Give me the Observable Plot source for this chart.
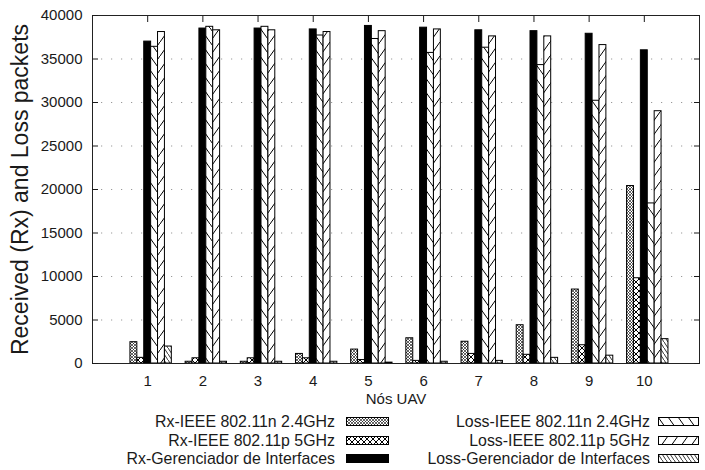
<!DOCTYPE html>
<html>
<head>
<meta charset="utf-8">
<script src="https://cdn.jsdelivr.net/npm/d3@7"></script>
<script src="https://cdn.jsdelivr.net/npm/@observablehq/plot@0.6"></script>
<style>
  body { margin: 0; background: #fff; font-family: "Liberation Sans", Arial, sans-serif; color: #1a1a1a; }
  #wrap { width: 705px; height: 470px; position: relative; overflow: hidden; }
  #chart svg { overflow: visible; }
  #legend { position: absolute; left: 0; top: 405px; width: 705px; height: 65px; font-size: 15.9px; }
  .item { position: absolute; height: 18px; line-height: 18px; white-space: nowrap; }
  .item span { position: absolute; right: 0; top: 0; }
</style>
</head>
<body>
<div id="wrap"><div id="chart"></div><div id="legend"></div></div>
<script>
// UAV nodes on the x axis
const nodes = [1, 2, 3, 4, 5, 6, 7, 8, 9, 10];

// Series names (legend order)
const seriesNames = [
  "Rx-IEEE 802.11n 2.4GHz",
  "Rx-IEEE 802.11p 5GHz",
  "Rx-Gerenciador de Interfaces",
  "Loss-IEEE 802.11n 2.4GHz",
  "Loss-IEEE 802.11p 5GHz",
  "Loss-Gerenciador de Interfaces"
];

// Packet counts per node
const rxN24   = [2450, 200, 200, 1100, 1600, 2900, 2500, 4400, 8500, 20400];
const rxP5    = [650, 600, 600, 600, 400, 300, 1100, 1000, 2100, 9800];
const rxGer   = [37000, 38500, 38500, 38400, 38800, 38600, 38300, 38200, 37900, 36000];
const lossN24 = [36400, 38700, 38700, 37700, 37300, 35700, 36300, 34300, 30200, 18400];
const lossP5  = [38100, 38300, 38300, 38100, 38200, 38400, 37600, 37600, 36600, 29000];
const lossGer = [1950, 200, 200, 200, 100, 200, 300, 650, 900, 2800];

const yTicks = [0, 5000, 10000, 15000, 20000, 25000, 30000, 35000, 40000];

const seriesValues = [rxN24, rxP5, rxGer, lossN24, lossP5, lossGer];
const patternIds = ["pRxN", "pRxP", "pRxG", "pLossN", "pLossP", "pLossG"];
const fills = patternIds.map(id => `url(#${id})`);

// Clustered histogram: 6 boxes per node, box width 1/8 of a node step
const boxW = 1 / 8;
const rows = [];
seriesNames.forEach((name, k) => {
  seriesValues[k].forEach((v, i) => {
    const x1 = nodes[i] + (k - 2.5) * boxW;
    rows.push({series: name, node: nodes[i], value: v, x1, x2: x1 + boxW});
  });
});

const blank = () => "";
const plain = d => String(d);

const chart = Plot.plot({
  width: 705,
  height: 405,
  marginLeft: 92,
  marginRight: 6,
  marginTop: 15,
  marginBottom: 42,
  style: {fontFamily: "'Liberation Sans', Arial, sans-serif", fontSize: "15px", color: "#1a1a1a", background: "#fff"},
  x: {domain: [0, 11]},
  y: {domain: [0, 40000]},
  color: {domain: seriesNames, range: fills},
  marks: [
    Plot.ruleY(yTicks.slice(1, -1), {stroke: "#9a9a9a", strokeWidth: 1.2, strokeDasharray: "1.2,8.8", strokeDashoffset: -9}),
    Plot.rectY(rows, {x1: "x1", x2: "x2", y1: 0, y2: "value", fill: "series", stroke: "#000", strokeWidth: 1}),
    Plot.frame({stroke: "#222"}),
    Plot.axisY(yTicks, {anchor: "left", tickSize: 0, tickPadding: 10, fontSize: 15, tickFormat: plain,
      label: "Received (Rx) and Loss packets", labelAnchor: "center", labelOffset: 81, labelArrow: "none"}),
    Plot.axisY(yTicks, {anchor: "left", tickSize: -6, tickFormat: blank, label: null}),
    Plot.axisY(yTicks, {anchor: "right", tickSize: -6, tickFormat: blank, label: null}),
    Plot.axisX(nodes, {anchor: "bottom", tickSize: 0, tickPadding: 12, tickFormat: plain, fontSize: 15,
      label: "Nós UAV", labelAnchor: "center", labelOffset: 40, labelArrow: "none"}),
    Plot.axisX(nodes, {anchor: "top", tickSize: -6, tickFormat: blank, label: null})
  ]
});

// Fill patterns for the six series
const svg = d3.select(chart);
const defs = svg.insert("defs", ":first-child");
function pattern(id, w, h, draw) {
  const p = defs.append("pattern").attr("id", id).attr("patternUnits", "userSpaceOnUse")
    .attr("width", w).attr("height", h);
  p.append("rect").attr("width", w).attr("height", h).attr("fill", "#fff");
  draw(p, w, h);
}
const line = (p, x1, y1, x2, y2, sw) => p.append("line").attr("x1", x1).attr("y1", y1)
  .attr("x2", x2).attr("y2", y2).attr("stroke", "#000").attr("stroke-width", sw);
// fine crosshatch
pattern("pRxN", 3, 3, (p, w, h) => { line(p, 0, 0, w, h, 0.6); line(p, 0, h, w, 0, 0.6); });
// coarse crosshatch
pattern("pRxP", 6, 6, (p, w, h) => { line(p, 0, 0, w, h, 1); line(p, 0, h, w, 0, 1); });
// solid
pattern("pRxG", 4, 4, (p) => { p.select("rect").attr("fill", "#000"); });
// wide backslash hatching
pattern("pLossN", 10, 14, (p, w, h) => { line(p, -2, -2.8, w + 2, h + 2.8, 1); });
// wide slash hatching
pattern("pLossP", 10, 14, (p, w, h) => { line(p, -2, h + 2.8, w + 2, -2.8, 1); });
// dense backslash hatching
pattern("pLossG", 4, 6, (p, w, h) => { line(p, -1, -1.5, w + 1, h + 1.5, 0.8); });

// Larger axis title on the y axis
svg.selectAll('g[aria-label="y-axis label"] text').attr("font-size", 23);

document.getElementById("chart").appendChild(chart);

// Two-column legend below the plot
const legend = d3.select("#legend");
const cols = [
  {textRight: 335, swX: 346, swW: 42},
  {textRight: 650, swX: 658, swW: 40}
];
seriesNames.forEach((name, k) => {
  const c = cols[Math.floor(k / 3)];
  const r = k % 3;
  const top = 8 + r * 18.5;
  legend.append("div").attr("class", "item")
    .style("left", "0px").style("width", c.textRight + "px").style("top", top + "px")
    .append("span").text(name);
  const sw = legend.append("svg").attr("width", c.swW + 2).attr("height", 10)
    .style("position", "absolute").style("left", c.swX + "px").style("top", (top + 4) + "px");
  sw.append("rect").attr("x", 0.5).attr("y", 0.5).attr("width", c.swW).attr("height", 8)
    .attr("fill", fills[k]).attr("stroke", "#000");
});
</script>
</body>
</html>
